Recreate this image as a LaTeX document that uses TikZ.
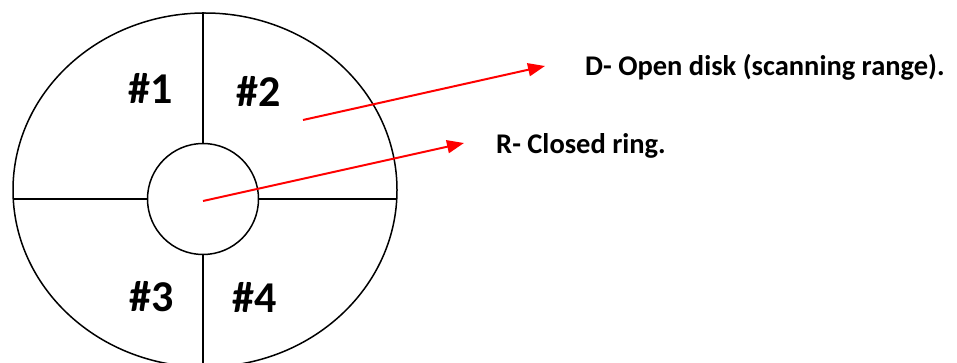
\documentclass[tikz,border=0pt]{standalone}
\usepackage{fontspec}
\setmainfont{Carlito}
\usetikzlibrary{arrows.meta,shapes.geometric}
\begin{document}
\begin{tikzpicture}[x=1pt,y=-1pt,
  blk/.style={draw=black,line width=1.5pt},
  redarrow/.style={draw=red,line width=2pt,-{Triangle[length=17pt,width=13pt]}},
  quad/.style={font=\bfseries\fontsize{44}{44}\selectfont},
  lbl/.style={font=\bfseries\fontsize{28.5}{28.5}\selectfont,anchor=base west,inner sep=0pt}]
\useasboundingbox (0,0) rectangle (957,363);
\fill[white] (0,0) rectangle (957,363);
\node[blk,ellipse,minimum width=384pt,minimum height=354pt,inner sep=0pt,draw] (outer) at (205,190) {};
\node[blk,circle,minimum size=111pt,inner sep=0pt,draw] (inner) at (203,199) {};
\draw[blk] (inner.north) -- (inner.north |- outer.north);
\draw[blk] (inner.south) -- (inner.south |- outer.south);
\draw[blk] (inner.west) -- ([xshift=0.3pt]inner.west -| outer.west);
\draw[blk] (inner.east) -- ([xshift=-0.3pt]inner.east -| outer.east);
\node[quad] (q1) at (151,88) {\#1};
\node[quad] (q2) at (259,91) {\#2};
\node[quad] (q3) at (152,297) {\#3};
\node[quad] (q4) at (255,297) {\#4};
\node[lbl] (D) at (585,76) {D- Open disk (scanning range).};
\node[lbl] (R) at (496,154) {R- Closed ring.};
\coordinate (ds) at (303,120);
\coordinate (de) at (545,66);
\coordinate (rs) at (203,201);
\coordinate (re) at (464,143);
\draw[redarrow] (ds) -- (de);
\draw[redarrow] (rs) -- (re);
\end{tikzpicture}
\end{document}
